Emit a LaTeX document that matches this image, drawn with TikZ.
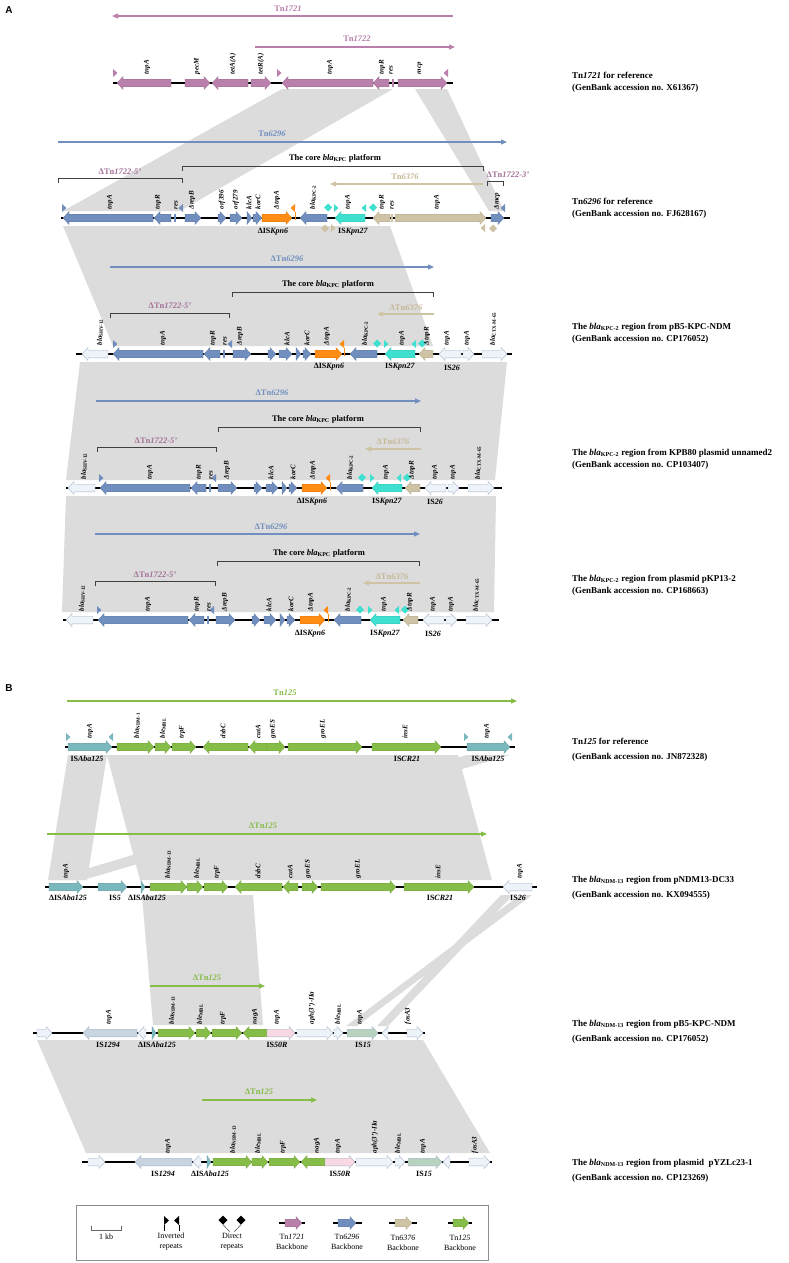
\documentclass[tikz,border=0pt]{standalone}
\usepackage{fontspec}
\setmainfont{Liberation Serif}
\newfontfamily\sansf{Liberation Sans}
\usetikzlibrary{arrows.meta}
\definecolor{cP}{RGB}{184,128,170}
\definecolor{cPt}{RGB}{165,112,152}
\definecolor{cB}{RGB}{112,143,190}
\definecolor{cT}{RGB}{207,195,165}
\definecolor{cTt}{RGB}{198,184,150}
\definecolor{cG}{RGB}{134,188,72}
\definecolor{cO}{RGB}{255,140,20}
\definecolor{cC}{RGB}{64,224,208}
\definecolor{cTe}{RGB}{122,184,190}
\definecolor{cW}{RGB}{238,243,250}
\definecolor{cWd}{RGB}{165,180,200}
\definecolor{cIa}{RGB}{200,212,224}
\definecolor{cIb}{RGB}{248,216,226}
\definecolor{cIc}{RGB}{184,210,192}
\definecolor{cBand}{RGB}{220,220,220}
\newcommand\bla[1]{\textit{bla}\textsubscript{\upshape #1}}
\newcommand\geneR[4]{%
 \pgfmathsetmacro\gA{max(#1,#2-6)}%
 \path[#4] (#1,#3-3.8) -- (\gA,#3-3.8) -- (\gA,#3-6.5) -- (#2,#3) -- (\gA,#3+6.5) -- (\gA,#3+3.8) -- (#1,#3+3.8) -- cycle;}
\newcommand\geneL[4]{%
 \pgfmathsetmacro\gA{min(#2,#1+6)}%
 \path[#4] (#2,#3-3.8) -- (\gA,#3-3.8) -- (\gA,#3-6.5) -- (#1,#3) -- (\gA,#3+6.5) -- (\gA,#3+3.8) -- (#2,#3+3.8) -- cycle;}
\newcommand\res[3]{\fill[#3] (#1-0.8,#2-4) rectangle (#1+0.8,#2+4);}
\newcommand\irR[3]{\fill[#3] (#1,#2-14) -- (#1+4.5,#2-10) -- (#1,#2-6) -- cycle;}
\newcommand\irL[3]{\fill[#3] (#1,#2-14) -- (#1-4.5,#2-10) -- (#1,#2-6) -- cycle;}
\newcommand\irRb[3]{\fill[#3] (#1,#2+14) -- (#1+4.5,#2+10) -- (#1,#2+6) -- cycle;}
\newcommand\irLb[3]{\fill[#3] (#1,#2+14) -- (#1-4.5,#2+10) -- (#1,#2+6) -- cycle;}
\newcommand\dia[3]{\fill[#3] (#1,#2-14.5) -- (#1+4,#2-10.5) -- (#1,#2-6.5) -- (#1-4,#2-10.5) -- cycle;}
\newcommand\diab[3]{\fill[#3] (#1,#2+14.5) -- (#1+4,#2+10.5) -- (#1,#2+6.5) -- (#1-4,#2+10.5) -- cycle;}
\newcommand\stem[3]{\draw[#3,line width=0.3pt] (#1,#2-6) -- (#1,#2+2);}
\newcounter{lc}
\newcommand\gl[3]{\stepcounter{lc}\node[glab,name=gl\arabic{lc}] at (#1,#2-8) {#3};}
\newcommand\bl[3]{\stepcounter{lc}\node[blab,name=bl\arabic{lc}] at (#1,#2) {#3};}
\begin{document}
\begin{tikzpicture}[x=1pt,y=-1pt,
  gP/.style={fill=cP,draw=cP!85!black,line width=0.2pt},
  gB/.style={fill=cB,draw=cB!85!black,line width=0.2pt},
  gT/.style={fill=cT,draw=cT!85!black,line width=0.2pt},
  gG/.style={fill=cG,draw=cG!85!black,line width=0.2pt},
  gO/.style={fill=cO,draw=cO!85!black,line width=0.2pt},
  gC/.style={fill=cC,draw=cC!85!black,line width=0.2pt},
  gTe/.style={fill=cTe,draw=cTe!85!black,line width=0.2pt},
  gW/.style={fill=cW,draw=cWd,line width=0.4pt},
  gIa/.style={fill=cIa,draw=cWd,line width=0.4pt},
  gIb/.style={fill=cIb,draw=cWd,line width=0.4pt},
  gIc/.style={fill=cIc,draw=cWd,line width=0.4pt},
  trk/.style={line width=1.6pt,black},
  band/.style={fill=cBand},
  tnR/.style={line width=1.2pt,-{Triangle[length=6pt,width=5pt]}},
  tnL/.style={line width=1.2pt,{Triangle[length=6pt,width=5pt]}-},
  brk/.style={line width=0.6pt,black!75},
  glab/.style={rotate=90,anchor=west,inner sep=0.5pt,font=\fontsize{7}{7}\selectfont\bfseries\itshape},
  blab/.style={inner sep=0.5pt,font=\fontsize{8}{9}\selectfont\bfseries},
  tlab/.style={inner sep=0.5pt,font=\fontsize{8.5}{9}\selectfont\bfseries},
  rlab/.style={anchor=west,align=left,inner sep=0pt,font=\fontsize{9}{11.8}\selectfont\bfseries},
  rlabB/.style={anchor=west,align=left,inner sep=0pt,font=\fontsize{9}{15}\selectfont\bfseries},
  leg/.style={inner sep=0pt,align=center,font=\fontsize{8}{10}\selectfont}]
\useasboundingbox (0,0) rectangle (788,1263);
\fill[white] (0,0) rectangle (788,1263);
% ---------------- bands ----------------
\fill[band] (282,89) -- (393,89) -- (180,211) -- (63,211) -- cycle;
\fill[band] (415,89) -- (447,89) -- (504,211) -- (489,211) -- cycle;
\fill[band] (63,226) -- (390,226) -- (433,346) -- (113,346) -- cycle;
\fill[band] (80,362) -- (507,362) -- (495,480) -- (66,480) -- cycle;
\fill[band] (66,496) -- (496,496) -- (494,612) -- (62,612) -- cycle;
\fill[band] (107,755) -- (458,755) -- (492,880) -- (140,880) -- cycle;
\fill[band] (68,755) -- (107,755) -- (87,880) -- (48,880) -- cycle;
\fill[band] (467,755) -- (510,755) -- (83,880) -- (49,880) -- cycle;
\fill[band] (142,895) -- (253,895) -- (263,1025) -- (153,1025) -- cycle;
\fill[band] (501,895) -- (513,895) -- (388,1026) -- (377,1026) -- cycle;
\fill[band] (520,895) -- (532,895) -- (357,1026) -- (346,1026) -- cycle;
\fill[band] (37,1040) -- (423,1040) -- (490,1153) -- (86,1153) -- cycle;
% ---------------- panel labels ----------------
\node[font=\sansf\bfseries\fontsize{10}{10}\selectfont] (pA) at (9,10) {A};
\node[font=\sansf\bfseries\fontsize{10}{10}\selectfont] (pB) at (9,688) {B};
% ================= A1 Tn1721 =================
\draw[tnL,cP] (112,16) -- (453,16);
\node[tlab,text=cP] (t1721) at (288,9) {Tn\textit{1721}};
\draw[tnR,cP] (255,47) -- (455,47);
\node[tlab,text=cP] (t1722) at (357,39) {Tn\textit{1722}};
\draw[trk] (113,83) -- (453,83);
\geneL{117}{171}{83}{gP}\geneR{185}{210}{83}{gP}\geneL{212}{248}{83}{gP}\geneR{251}{271}{83}{gP}
\geneL{282}{373}{83}{gP}\geneL{373}{389}{83}{gP}\res{393}{83}{cP}\geneR{398}{447}{83}{gP}
\irR{113}{83}{cP}\irR{277}{83}{cP}\irL{448}{83}{cP}
\gl{147}{83}{tnpA}\gl{197}{83}{pecM}\gl{233}{83}{tetA(A)}\gl{261}{83}{tetR(A)}
\gl{330}{83}{tnpA}\gl{382}{83}{tnpR}\gl{391}{83}{res}\gl{420}{83}{mcp}
% ================= A2 Tn6296 =================
\draw[tnR,cB] (58,142) -- (507,142);
\node[tlab,text=cB] (t6296) at (272,134) {Tn\textit{6296}};
\draw[brk] (182,171) -- (182,166) -- (483,166) -- (483,171);
\node[tlab] (core2) at (335,158) {The core \bla{KPC} platform};
\draw[brk] (58,183) -- (58,178) -- (182,178) -- (182,183);
\node[tlab,text=cPt] (d1722a) at (120,172) {ΔTn\textit{1722-5\textquoteright}};
\draw[tnL,cT] (330,184) -- (483,184);
\node[tlab,text=cTt] (t6376) at (405,177) {Tn\textit{6376}};
\draw[brk] (487,186) -- (487,181) -- (503,181) -- (503,186);
\node[tlab,text=cPt] (d1722b) at (508,175) {ΔTn\textit{1722-3\textquoteright}};
\draw[trk] (61,218) -- (510,218);
\geneL{63}{153}{218}{gB}\geneL{154}{171}{218}{gB}\res{175}{218}{cB}\geneR{185}{201}{218}{gB}
\geneR{218}{226}{218}{gB}\geneR{230}{242}{218}{gB}\geneR{247}{252}{218}{gB}\geneR{253}{262}{218}{gB}
\geneR{262}{292}{218}{gO}\geneL{300}{327}{218}{gB}\geneL{335}{365}{218}{gC}\geneL{373}{390}{218}{gT}
\res{392}{218}{cT}\geneR{395}{486}{218}{gT}\geneR{491}{504}{218}{gB}
\irR{62}{218}{cB}\irL{183}{218}{cB}\irL{295}{218}{cO}\stem{295}{218}{cO}
\dia{328}{218}{cC}\irR{334}{218}{cC}\irL{366}{218}{cC}\dia{373}{218}{cC}
\diab{325}{218}{cT}\irRb{331}{218}{cT}\irLb{485}{218}{cT}\diab{493}{218}{cT}\irL{505}{218}{cB}
\gl{110}{218}{tnpA}\gl{158}{218}{tnpR}\gl{176}{218}{res}\gl{192}{218}{ΔrepB}\gl{222}{218}{orf396}
\gl{236}{218}{orf279}\gl{249}{218}{klcA}\gl{258}{218}{korC}\gl{277}{218}{ΔtnpA}\gl{313}{218}{\bla{KPC-2}}
\gl{348}{218}{tnpA}\gl{382}{218}{tnpR}\gl{392}{218}{res}\gl{437}{218}{tnpA}\gl{497}{218}{Δmcp}
\bl{273}{232}{ΔIS\textit{Kpn6}}\bl{353}{232}{IS\textit{Kpn27}}
% ================= A3 =================
\draw[tnR,cB] (110,267) -- (434,267);
\node[tlab,text=cB] (d6296a) at (287,259) {ΔTn\textit{6296}};
\draw[brk] (232,297) -- (232,292) -- (433,292) -- (433,297);
\node[tlab] (core3) at (328,284) {The core \bla{KPC} platform};
\draw[brk] (110,318) -- (110,313) -- (229,313) -- (229,318);
\node[tlab,text=cPt] (d1722c) at (170,306) {ΔTn\textit{1722-5\textquoteright}};
\draw[tnL,cT] (377,314) -- (434,314);
\node[tlab,text=cTt] (d6376a) at (406,308) {ΔTn\textit{6376}};
\draw[trk] (76,354) -- (512,354);
\geneL{82}{108}{354}{gW}\geneL{113}{203}{354}{gB}\geneL{204}{220}{354}{gB}\res{224}{354}{cB}
\geneR{233}{251}{354}{gB}\geneR{268}{276}{354}{gB}\geneR{279}{292}{354}{gB}\geneR{296}{301}{354}{gB}
\geneR{303}{311}{354}{gB}\geneR{315}{342}{354}{gO}\geneL{350}{377}{354}{gB}\geneL{385}{415}{354}{gC}
\geneL{419}{433}{354}{gT}\geneL{439}{461}{354}{gW}\geneR{463}{474}{354}{gW}\geneR{482}{507}{354}{gW}
\irR{113}{354}{cB}\irL{232}{354}{cB}\irL{344}{354}{cO}\stem{344}{354}{cO}
\dia{377}{354}{cC}\irR{384}{354}{cC}\irL{416}{354}{cC}\dia{422}{354}{cC}
\gl{100}{354}{\bla{SHV-12}}\gl{163}{354}{tnpA}\gl{213}{354}{tnpR}\gl{225}{354}{res}\gl{240}{354}{ΔrepB}
\gl{287}{354}{klcA}\gl{307}{354}{korC}\gl{327}{354}{ΔtnpA}\gl{365}{354}{\bla{KPC-2}}\gl{402}{354}{tnpA}
\gl{427}{354}{ΔtnpR}\gl{447}{354}{tnpA}\gl{467}{354}{tnpA}\gl{493}{354}{\bla{CTX-M-65}}
\bl{329}{367}{ΔIS\textit{Kpn6}}\bl{400}{367}{IS\textit{Kpn27}}\bl{452}{368}{IS\textit{26}}
% ================= A4 =================
\draw[tnR,cB] (96,401) -- (421,401);
\node[tlab,text=cB] (d6296b) at (272,393) {ΔTn\textit{6296}};
\draw[brk] (218,432) -- (218,427) -- (420,427) -- (420,432);
\node[tlab] (core4) at (318,419) {The core \bla{KPC} platform};
\draw[brk] (97,452) -- (97,447) -- (216,447) -- (216,452);
\node[tlab,text=cPt] (d1722d) at (156,441) {ΔTn\textit{1722-5\textquoteright}};
\draw[tnL,cT] (365,449) -- (421,449);
\node[tlab,text=cTt] (d6376b) at (393,442) {ΔTn\textit{6376}};
\draw[trk] (66,488) -- (502,488);
\geneL{68}{95}{488}{gW}\geneL{100}{190}{488}{gB}\geneL{191}{206}{488}{gB}\res{210}{488}{cB}
\geneR{218}{237}{488}{gB}\geneR{254}{262}{488}{gB}\geneR{266}{278}{488}{gB}\geneR{282}{287}{488}{gB}
\geneR{289}{297}{488}{gB}\geneR{302}{327}{488}{gO}\geneL{336}{363}{488}{gB}\geneL{372}{402}{488}{gC}
\geneL{405}{420}{488}{gT}\geneL{425}{446}{488}{gW}\geneR{448}{459}{488}{gW}\geneR{468}{494}{488}{gW}
\irR{99}{488}{cB}\irL{216}{488}{cB}\irL{330}{488}{cO}\stem{330}{488}{cO}
\dia{362}{488}{cC}\irR{370}{488}{cC}\irL{401}{488}{cC}\dia{407}{488}{cC}
\gl{84}{488}{\bla{SHV-12}}\gl{150}{488}{tnpA}\gl{199}{488}{tnpR}\gl{211}{488}{res}\gl{227}{488}{ΔrepB}
\gl{271}{488}{klcA}\gl{293}{488}{korC}\gl{313}{488}{ΔtnpA}\gl{350}{488}{\bla{KPC-2}}\gl{386}{488}{tnpA}
\gl{412}{488}{ΔtnpR}\gl{435}{488}{tnpA}\gl{453}{488}{tnpA}\gl{478}{488}{\bla{CTX-M-65}}
\bl{312}{502}{ΔIS\textit{Kpn6}}\bl{387}{502}{IS\textit{Kpn27}}\bl{435}{502}{IS\textit{26}}
% ================= A5 =================
\draw[tnR,cB] (95,534) -- (420,534);
\node[tlab,text=cB] (d6296c) at (271,527) {ΔTn\textit{6296}};
\draw[brk] (217,566) -- (217,561) -- (419,561) -- (419,566);
\node[tlab] (core5) at (319,553) {The core \bla{KPC} platform};
\draw[brk] (95,586) -- (95,581) -- (215,581) -- (215,586);
\node[tlab,text=cPt] (d1722e) at (155,575) {ΔTn\textit{1722-5\textquoteright}};
\draw[tnL,cT] (363,583) -- (420,583);
\node[tlab,text=cTt] (d6376c) at (392,577) {ΔTn\textit{6376}};
\draw[trk] (63,620) -- (499,620);
\geneL{66}{93}{620}{gW}\geneL{98}{188}{620}{gB}\geneL{189}{204}{620}{gB}\res{208}{620}{cB}
\geneR{216}{235}{620}{gB}\geneR{252}{260}{620}{gB}\geneR{264}{276}{620}{gB}\geneR{280}{285}{620}{gB}
\geneR{287}{295}{620}{gB}\geneR{300}{325}{620}{gO}\geneL{334}{361}{620}{gB}\geneL{370}{400}{620}{gC}
\geneL{403}{418}{620}{gT}\geneL{423}{444}{620}{gW}\geneR{446}{457}{620}{gW}\geneR{466}{492}{620}{gW}
\irR{97}{620}{cB}\irL{214}{620}{cB}\irL{328}{620}{cO}\stem{328}{620}{cO}
\dia{360}{620}{cC}\irR{368}{620}{cC}\irL{399}{620}{cC}\dia{405}{620}{cC}
\gl{82}{620}{\bla{SHV-12}}\gl{148}{620}{tnpA}\gl{197}{620}{tnpR}\gl{209}{620}{res}\gl{225}{620}{ΔrepB}
\gl{269}{620}{klcA}\gl{291}{620}{korC}\gl{311}{620}{ΔtnpA}\gl{348}{620}{\bla{KPC-2}}\gl{384}{620}{tnpA}
\gl{410}{620}{ΔtnpR}\gl{433}{620}{tnpA}\gl{451}{620}{tnpA}\gl{476}{620}{\bla{CTX-M-65}}
\bl{310}{634}{ΔIS\textit{Kpn6}}\bl{385}{634}{IS\textit{Kpn27}}\bl{433}{634}{IS\textit{26}}
% ================= B1 Tn125 =================
\draw[tnR,cG] (67,701) -- (517,701);
\node[tlab,text=cG] (t125) at (285,693) {Tn\textit{125}};
\draw[trk] (65,747) -- (515,747);
\geneR{68}{112}{747}{gTe}\geneR{117}{154}{747}{gG}\geneR{155}{171}{747}{gG}\geneR{172}{196}{747}{gG}
\geneL{203}{248}{747}{gG}\geneL{249}{267}{747}{gG}\geneR{267}{285}{747}{gG}\geneR{288}{362}{747}{gG}
\geneR{372}{441}{747}{gG}\geneR{467}{510}{747}{gTe}
\irR{66}{747}{cTe}\irL{113}{747}{cTe}\irR{464}{747}{cTe}\irL{512}{747}{cTe}
\gl{90}{747}{tnpA}\gl{137}{747}{\bla{NDM-1}}\gl{163}{747}{ble\textsubscript{\upshape MBL}}\gl{182}{747}{trpF}
\gl{223}{747}{dsbC}\gl{258}{747}{cutA}\gl{273}{747}{groES}\gl{323}{747}{groEL}\gl{405}{747}{insE}\gl{487}{747}{tnpA}
\bl{87}{759}{IS\textit{Aba125}}\bl{407}{759}{IS\textit{CR21}}\bl{488}{759}{IS\textit{Aba125}}
% ================= B2 =================
\draw[tnR,cG] (47,834) -- (487,834);
\node[tlab,text=cG] (d125a) at (263,826) {ΔTn\textit{125}};
\draw[trk] (45,887) -- (537,887);
\geneR{49}{83}{887}{gTe}\geneR{98}{127}{887}{gTe}\geneR{141}{145}{887}{gTe}\geneR{150}{187}{887}{gG}
\geneR{187}{203}{887}{gG}\geneR{204}{228}{887}{gG}\geneL{235}{282}{887}{gG}\geneL{283}{298}{887}{gG}
\geneR{302}{318}{887}{gG}\geneR{321}{396}{887}{gG}\geneR{404}{474}{887}{gG}\geneL{503}{532}{887}{gW}
\gl{66}{887}{tnpA}\gl{168}{887}{\bla{NDM-13}}\gl{197}{887}{ble\textsubscript{\upshape MBL}}\gl{217}{887}{trpF}
\gl{258}{887}{dsbC}\gl{290}{887}{cutA}\gl{308}{887}{groES}\gl{358}{887}{groEL}\gl{438}{887}{insE}\gl{520}{887}{tnpA}
\bl{68}{898}{ΔIS\textit{Aba125}}\bl{115}{898}{IS\textit{5}}\bl{147}{898}{ΔIS\textit{Aba125}}
\bl{440}{898}{IS\textit{CR21}}\bl{518}{898}{IS\textit{26}}
% ================= B3 =================
\draw[tnR,cG] (150,986) -- (265,986);
\node[tlab,text=cG] (d125b) at (207,978) {ΔTn\textit{125}};
\draw[trk] (33,1033) -- (425,1033);
\geneR{37}{52}{1033}{gW}\geneL{83}{137}{1033}{gIa}\geneL{138}{146}{1033}{gW}\geneR{152}{156}{1033}{gTe}
\geneR{158}{195}{1033}{gG}\geneR{196}{211}{1033}{gG}\geneR{212}{242}{1033}{gG}\geneL{243}{267}{1033}{gG}
\geneR{267}{295}{1033}{gIb}\geneR{297}{333}{1033}{gW}\geneR{334}{343}{1033}{gW}\geneR{347}{378}{1033}{gIc}
\geneL{382}{388}{1033}{gW}\geneR{407}{423}{1033}{gW}
\gl{109}{1033}{tnpA}\gl{172}{1033}{\bla{NDM-13}}\gl{200}{1033}{ble\textsubscript{\upshape MBL}}\gl{223}{1033}{trpF}
\gl{255}{1033}{nagA}\gl{277}{1033}{tnpA}\gl{312}{1033}{aph(3\textquoteright)-IIa}\gl{338}{1033}{ble\textsubscript{\upshape MBL}}
\gl{360}{1033}{tnpA}\gl{408}{1033}{fosA3}
\bl{108}{1045}{IS\textit{1294}}\bl{157}{1045}{ΔIS\textit{Aba125}}\bl{277}{1045}{IS\textit{50R}}\bl{363}{1045}{IS\textit{15}}
% ================= B4 =================
\draw[tnR,cG] (202,1100) -- (317,1100);
\node[tlab,text=cG] (d125c) at (259,1092) {ΔTn\textit{125}};
\draw[trk] (82,1162) -- (492,1162);
\geneR{88}{105}{1162}{gW}\geneL{135}{192}{1162}{gIa}\geneL{193}{201}{1162}{gW}\geneR{207}{211}{1162}{gTe}
\geneR{213}{252}{1162}{gG}\geneR{252}{268}{1162}{gG}\geneR{269}{300}{1162}{gG}\geneL{301}{325}{1162}{gG}
\geneR{325}{355}{1162}{gIb}\geneR{356}{393}{1162}{gW}\geneR{395}{405}{1162}{gW}\geneR{408}{442}{1162}{gIc}
\geneL{443}{450}{1162}{gW}\geneR{469}{490}{1162}{gW}
\gl{168}{1162}{tnpA}\gl{233}{1162}{\bla{NDM-13}}\gl{258}{1162}{ble\textsubscript{\upshape MBL}}\gl{283}{1162}{trpF}
\gl{317}{1162}{nagA}\gl{338}{1162}{tnpA}\gl{375}{1162}{aph(3\textquoteright)-IIa}\gl{398}{1162}{ble\textsubscript{\upshape MBL}}
\gl{423}{1162}{tnpA}\gl{475}{1162}{fosA3}
\bl{163}{1174}{IS\textit{1294}}\bl{210}{1174}{ΔIS\textit{Aba125}}\bl{340}{1174}{IS\textit{50R}}\bl{424}{1174}{IS\textit{15}}
% ================= right labels =================
\node[rlab] (r1) at (572,82) {Tn\textit{1721} for reference\\(GenBank accession no. X61367)};
\node[rlab] (r2) at (572,208) {Tn\textit{6296} for reference\\(GenBank accession no. FJ628167)};
\node[rlab] (r3) at (572,333) {The \bla{KPC-2} region from pB5-KPC-NDM\\(GenBank accession no. CP176052)};
\node[rlab] (r4) at (572,459) {The \bla{KPC-2} region from KPB80 plasmid unnamed2\\(GenBank accession no. CP103407)};
\node[rlab] (r5) at (572,585) {The \bla{KPC-2} region from plasmid pKP13-2\\(GenBank accession no. CP168663)};
\node[rlabB] (r6) at (572,749.5) {Tn\textit{125} for reference\\(GenBank accession no. JN872328)};
\node[rlabB] (r7) at (572,887.5) {The \bla{NDM-13} region from pNDM13-DC33\\(GenBank accession no. KX094555)};
\node[rlabB] (r8) at (572,1031.5) {The \bla{NDM-13} region from pB5-KPC-NDM\\(GenBank accession no. CP176052)};
\node[rlabB] (r9) at (572,1170.5) {The \bla{NDM-13} region from plasmid~~pYZLc23-1\\(GenBank accession no. CP123269)};
% ================= legend =================
\draw[black!45,line width=0.5pt] (76,1205) rectangle (488,1260);
\draw[black!60,line width=0.5pt] (91,1226) -- (91,1230) -- (121,1230) -- (121,1226);
\node[leg] (l1) at (106,1237) {1 kb};
\fill (164,1216) -- (169,1220.5) -- (164,1225) -- cycle;
\fill (179,1216) -- (174,1220.5) -- (179,1225) -- cycle;
\draw[line width=0.3pt] (164,1225) -- (164,1231) (179,1225) -- (179,1231);
\node[leg] (l2) at (171,1242) {Inverted\\repeats};
\fill (223,1215.5) -- (227.5,1220) -- (223,1224.5) -- (218.5,1220) -- cycle;
\fill (241,1215.5) -- (245.5,1220) -- (241,1224.5) -- (236.5,1220) -- cycle;
\draw[line width=0.3pt] (223,1224.5) -- (230,1232) (241,1224.5) -- (234,1232);
\node[leg] (l3) at (232,1242) {Direct\\repeats};
\draw[trk] (279,1223) -- (305,1223);\geneR{285}{302}{1223}{gP}
\node[leg] (l4) at (292,1242) {Tn\textit{1721}\\Backbone};
\draw[trk] (333,1223) -- (362,1223);\geneR{338}{356}{1223}{gB}
\node[leg] (l5) at (347,1242) {Tn\textit{6296}\\Backbone};
\draw[trk] (389,1223) -- (417,1223);\geneR{395}{412}{1223}{gT}
\node[leg] (l6) at (403,1243) {Tn\textit{6376}\\Backbone};
\draw[trk] (448,1223) -- (472,1223);\geneR{453}{469}{1223}{gG}
\node[leg] (l7) at (460,1243) {Tn\textit{125}\\Backbone};
\end{tikzpicture}
\end{document}
